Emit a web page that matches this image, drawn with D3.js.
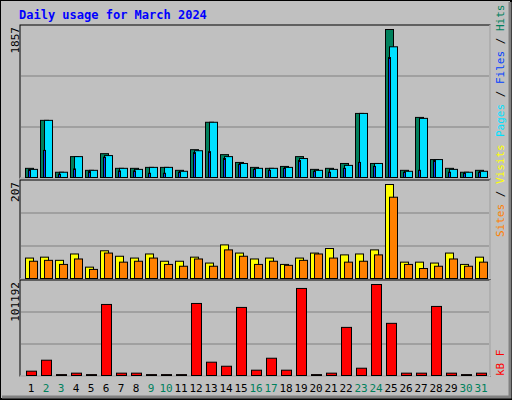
<!DOCTYPE html>
<html><head><meta charset="utf-8">
<script src="https://cdn.jsdelivr.net/npm/d3@7"></script>
<style>body{margin:0;background:#fff}</style>
</head><body><svg id="c" width="512" height="400"></svg>
<script>
const days = d3.range(1, 32);
const weekend = [2,3,9,10,16,17,23,24,30,31];
const hits  = [115,717,66,262,90,299,115,115,127,127,90,349,693,287,189,127,115,139,262,102,115,176,804,176,1857,90,754,225,115,66,90];
const files = [102,717,66,262,90,275,115,102,127,127,78,336,693,262,176,115,115,127,238,90,102,152,804,176,1640,78,742,225,102,66,78];
const pages = [98,340,41,107,74,254,82,82,53,53,66,312,324,238,164,102,90,115,213,78,66,115,189,139,1505,66,90,213,66,53,66];
const sites = [45,47,40,54,25,61,49,45,54,38,38,47,34,74,56,43,45,31,45,56,66,52,54,63,207,36,36,34,56,31,47];
const visits= [38,40,31,43,20,56,36,38,45,31,27,43,27,63,49,31,38,29,40,54,45,36,38,52,179,31,22,27,43,27,36];
const kbytes= [4800,17000,1000,2600,1000,79000,2600,2600,1000,1000,1000,80100,14800,10300,75700,5900,19200,5900,96800,1000,2600,53500,8100,101192,58000,2600,2600,76800,2600,1000,2600];

const svg = d3.select("#c");
const mono = "'DejaVu Sans Mono', monospace";
svg.append("rect").attr("width",512).attr("height",400).attr("fill","#c0c0c0");
svg.append("path").attr("d","M0,0H511V399H0Z").attr("fill","none").attr("stroke","#000").attr("stroke-width",2);
svg.append("path").attr("d","M2,397H510V2").attr("fill","none").attr("stroke","#808080").attr("stroke-width",3);
svg.append("text").attr("x",19).attr("y",19).attr("fill","#0000ff").attr("font-family",mono)
  .attr("font-weight","bold").attr("font-size",12).text("Daily usage for March 2024");

const x = d3.scaleBand().domain(days).range([22, 487]);

function panel(top, bottom, max) {
  svg.append("rect").attr("x",20).attr("y",top).attr("width",470).attr("height",bottom-top)
    .attr("fill","#c0c0c0").attr("stroke","#000");
  svg.append("path").attr("d",`M490,${top}V${bottom}H20`).attr("stroke","#fff").attr("fill","none");
  const y = d3.scaleLinear().domain([0,max]).range([bottom-1, top+4]);
  const h = bottom - top;
  [1,2].forEach(k => svg.append("line").attr("x1",21).attr("x2",489)
    .attr("y1",top+h*k/3).attr("y2",top+h*k/3).attr("stroke","#808080"));
  svg.append("text").attr("transform",`translate(19,${top+2}) rotate(-90)`).attr("text-anchor","end")
    .attr("font-family",mono).attr("font-size",11).text(max);
  return y;
}
function bars(data, y, dx, w, color) {
  svg.append("g").selectAll("rect").data(data).join("rect")
    .attr("x",(d,i)=>x(days[i])+dx+0.5).attr("width",w)
    .attr("y",d=>y(d)+0.5).attr("height",d=>Math.max(0,y(0)-y(d)))
    .attr("fill",color).attr("stroke","#000");
}
function side(y0, parts) {
  const t = svg.append("text").attr("transform",`translate(504,${y0}) rotate(-90)`)
    .attr("font-family",mono).attr("font-size",11);
  parts.forEach(([s,c]) => t.append("tspan").attr("fill",c).text(s));
}

const y1 = panel(25, 178, 1857);
bars(hits, y1, 3, 8, "#00805c");
bars(files, y1, 7, 8, "#00e0ff");
bars(pages, y1, 6, 2, "#0040ff");
side(137, [["Pages","#00e0ff"],[" / ","#000"],["Files","#0040ff"],[" / ","#000"],["Hits","#00805c"]]);

const y2 = panel(180, 279, 207);
bars(sites, y2, 3, 8, "#ffff00");
bars(visits, y2, 7, 8, "#ff8000");
side(237, [["Sites","#ff8000"],[" / ","#000"],["Visits","#ffff00"]]);

const y3 = panel(280, 376, 101192);
bars(kbytes, y3, 4, 10, "#ff0000");
side(376, [["kB F","#ff0000"]]);

svg.append("g").selectAll("text").data(days).join("text")
  .attr("x",d=>x(d)+9).attr("y",392).attr("text-anchor","middle")
  .attr("font-family",mono).attr("font-size",11)
  .attr("fill",d=>weekend.includes(d)?"#00805c":"#000").text(d=>d);
</script></body></html>
